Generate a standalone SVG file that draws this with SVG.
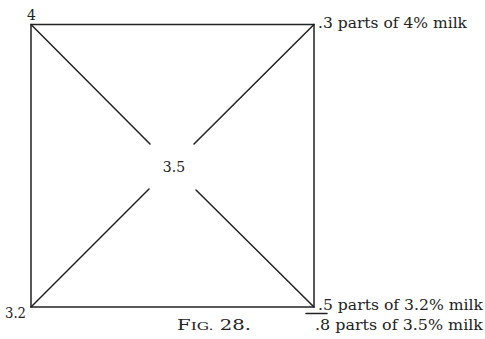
<svg xmlns="http://www.w3.org/2000/svg" width="485" height="339" viewBox="0 0 485 339">
<style>
.ln{stroke:#222;stroke-width:1.5;fill:none;stroke-linecap:round}
.t{font-family:"DejaVu Serif","Liberation Serif",serif;font-size:14px;fill:#222}
</style>
<rect width="485" height="339" fill="#fff"/>
<g id="connectors">
<rect class="ln" x="31" y="24.5" width="283" height="282.5"/>
<line class="ln" x1="31" y1="24.5" x2="150" y2="144"/>
<line class="ln" x1="314" y1="24.5" x2="194" y2="144"/>
<line class="ln" x1="31" y1="307" x2="149" y2="189"/>
<line class="ln" x1="314" y1="307" x2="196" y2="190"/>
<line class="ln" x1="306" y1="313.5" x2="327" y2="313.5" stroke-width="1"/>
</g>
<g id="node-tl"><text class="t" x="27" y="20" font-size="11">4</text></g>
<g id="node-tr"><text class="t" x="318" y="28" textLength="149" lengthAdjust="spacingAndGlyphs">.3 parts of 4% milk</text></g>
<g id="node-center"><text class="t" x="174" y="172" text-anchor="middle">3.5</text></g>
<g id="node-bl"><text class="t" x="5" y="318" textLength="21" lengthAdjust="spacingAndGlyphs">3.2</text></g>
<g id="node-br">
<text class="t" x="318" y="310" textLength="165" lengthAdjust="spacingAndGlyphs">.5 parts of 3.2% milk</text>
<text class="t" x="315" y="330" textLength="168" lengthAdjust="spacingAndGlyphs">.8 parts of 3.5% milk</text>
</g>
<g id="caption"><text class="t" x="177" y="330" textLength="74" lengthAdjust="spacingAndGlyphs">F<tspan font-size="11">IG.</tspan> 28.</text></g>
</svg>
